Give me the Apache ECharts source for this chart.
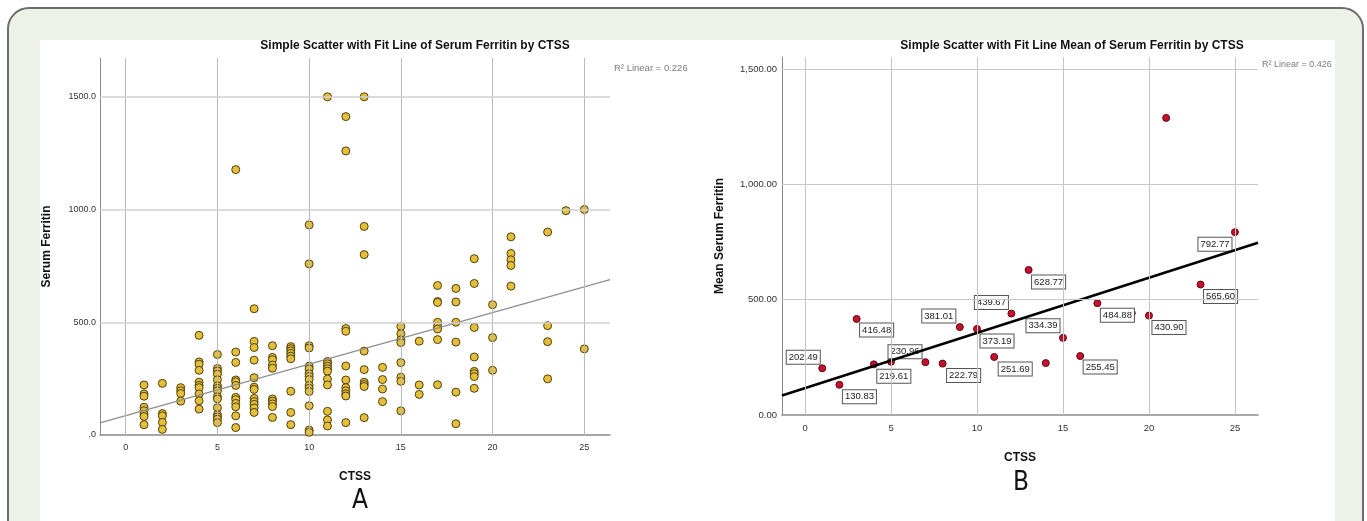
<!DOCTYPE html>
<html><head><meta charset="utf-8">
<script src="https://cdn.jsdelivr.net/npm/echarts@6/dist/echarts.min.js"></script>
<style>
html,body{margin:0;padding:0;width:1367px;height:521px;overflow:hidden;background:#fff;}
#frame{position:absolute;left:7px;top:7px;width:1357px;height:560px;border:2px solid #6d6d6d;border-radius:22px;background:#edf2e9;box-sizing:border-box;}
#panel{position:absolute;left:40px;top:40px;width:1295px;height:481px;background:#fff;}
#chart{position:absolute;left:0;top:0;width:1367px;height:521px;}
</style></head><body>
<div id="frame"></div><div id="panel"></div><div id="chart"></div>
<script>
// ---- Panel A: individual Serum Ferritin values by CTSS ----
const ctssLevelsA = [1,2,3,4,5,6,7,8,9,10,11,12,13,14,15,16,17,18,19,20,21,23,24,25];
const ferritinByLevelA = [
  [222,182,172,123,108,92,82,46],
  [229,95,85,56,25],
  [210,196,184,150],
  [442,324,314,287,234,220,210,182,152,115],
  [357,295,284,270,245,218,207,196,170,160,121,90,80,70,55],
  [1177,368,322,244,236,220,167,157,140,125,85,33],
  [560,415,388,332,254,212,202,162,148,136,120,100],
  [396,344,334,310,296,160,150,138,126,78],
  [392,383,373,362,350,338,194,100,46],
  [932,759,396,386,305,293,272,260,246,220,207,193,130,22,12],
  [1500,326,316,305,294,283,248,222,105,67,40],
  [1412,1260,472,460,306,244,210,196,183,173,55],
  [1500,925,800,372,290,234,224,215,77],
  [300,246,204,148],
  [482,449,422,410,321,256,238,107],
  [416,222,180],
  [663,592,588,500,482,470,423,223],
  [650,590,500,412,190,50],
  [782,672,477,346,282,272,259,207],
  [578,432,287],
  [879,805,777,752,660],
  [900,485,414,249],
  [995],
  [1000,382]
];
const fitCoefA = [86, 22.85];

// ---- Panel B: mean Serum Ferritin by CTSS ----
const ctssB = [1,2,3,4,5,7,8,9,10,11,12,13,14,15,16,17,19,20,21,23,25];
const meanFerritinB = [202.49,130.83,416.48,219.61,230.96,229,222.79,381.01,373.19,251.69,439.67,628.77,225,334.39,255.45,484.88,442,430.90,1288,565.60,792.77];
// ticks
const xTicks = [0,5,10,15,20,25];
const yTicksA = [0,500,1000,1500];
const yTicksB = [0,500,1000,1500];
const r2A = '0.226', r2B = '0.426';

// label placement (style only) for panel B, in pixels relative to the point
const labelOffsetB = [[-19,-11],[20,12],[20,11],[20,12],[14,-10],null,[21,12],[-21,-11],[20,12],[21,12],[-20,-11],[20,12],null,[-20,-12],[20,11],[20,12],null,[20,12],null,[20,12],[-20,12]];

const FONT = "'Liberation Sans', Arial, sans-serif";

function lsq(xs, ys){
  const n = xs.length; let mx=0,my=0;
  for(let i=0;i<n;i++){mx+=xs[i];my+=ys[i];}
  mx/=n;my/=n; let sxy=0,sxx=0;
  for(let i=0;i<n;i++){sxy+=(xs[i]-mx)*(ys[i]-my);sxx+=(xs[i]-mx)*(xs[i]-mx);}
  const b=sxy/sxx; return [my-b*mx,b];
}

const pointsA = [];
ctssLevelsA.forEach((x,i)=>ferritinByLevelA[i].forEach(v=>pointsA.push([x,v])));
const fitB = lsq(ctssB, meanFerritinB);

const xRangeA = [-1.4, 26.4], yMaxA = 1672;
const xRangeB = [-1.34, 26.34], yMaxB = 1552;

const lineA = xRangeA.map(x=>[x, fitCoefA[0]+fitCoefA[1]*x]);
const lineB = xRangeB.map(x=>[x, fitB[0]+fitB[1]*x]);

function fmtB(v){
  const s = v.toFixed(2); const [i,d] = s.split('.');
  return i.replace(/\B(?=(\d{3})+(?!\d))/g, ',') + '.' + d;
}

function gridLines(xi, yTicks, vColor, hColor, hWidth){
  return {
    type:'line', xAxisIndex:xi, yAxisIndex:xi, data:[], silent:true, z:1,
    markLine:{
      silent:true, symbol:'none', animation:false, label:{show:false},
      lineStyle:{type:'solid'},
      data:[
        ...xTicks.map(v=>({xAxis:v, lineStyle:{color:vColor,width:1,type:'solid'}})),
        ...yTicks.filter(v=>v>0).map(v=>({yAxis:v, lineStyle:{color:hColor,width:hWidth,type:'solid'}}))
      ]
    }
  };
}

const chart = echarts.init(document.getElementById('chart'), null, {renderer:'canvas'});
chart.setOption({
  animation:false,
  backgroundColor:'transparent',
  textStyle:{fontFamily:FONT},
  grid:[
    {left:100, top:58, width:510, height:377},
    {left:782, top:57, width:476, height:358}
  ],
  xAxis:[
    {type:'value', gridIndex:0, min:xRangeA[0], max:xRangeA[1],
     axisLine:{show:true, onZero:false, lineStyle:{color:'#8a8a8a', width:1.5}},
     axisTick:{show:false}, splitLine:{show:false},
     axisLabel:{customValues:xTicks, fontSize:9, color:'#333', margin:8, fontFamily:FONT},
     name:'CTSS', nameLocation:'middle', nameGap:36,
     nameTextStyle:{fontWeight:'bold', fontSize:12, color:'#111', fontFamily:FONT}},
    {type:'value', gridIndex:1, min:xRangeB[0], max:xRangeB[1],
     axisLine:{show:true, onZero:false, lineStyle:{color:'#8a8a8a', width:1.5}},
     axisTick:{show:false}, splitLine:{show:false},
     axisLabel:{customValues:xTicks, fontSize:9.5, color:'#333', margin:8, fontFamily:FONT},
     name:'CTSS', nameLocation:'middle', nameGap:37,
     nameTextStyle:{fontWeight:'bold', fontSize:12, color:'#111', fontFamily:FONT}}
  ],
  yAxis:[
    {type:'value', gridIndex:0, min:0, max:yMaxA,
     axisLine:{show:true, onZero:false, lineStyle:{color:'#8a8a8a', width:1}},
     axisTick:{show:false}, splitLine:{show:false},
     axisLabel:{customValues:yTicksA, fontSize:9, color:'#333', margin:4, fontFamily:FONT,
       formatter:v=> v===0 ? '.0' : v.toFixed(1)},
     name:'Serum Ferritin', nameLocation:'middle', nameGap:47, nameRotate:90,
     nameTextStyle:{fontWeight:'bold', fontSize:12, color:'#111', fontFamily:FONT}},
    {type:'value', gridIndex:1, min:0, max:yMaxB,
     axisLine:{show:true, onZero:false, lineStyle:{color:'#8a8a8a', width:1}},
     axisTick:{show:false}, splitLine:{show:false},
     axisLabel:{customValues:yTicksB, fontSize:9.5, color:'#333', margin:5, fontFamily:FONT,
       formatter:v=>fmtB(v)},
     name:'Mean Serum Ferritin', nameLocation:'middle', nameGap:56, nameRotate:90,
     nameTextStyle:{fontWeight:'bold', fontSize:12, color:'#111', fontFamily:FONT}}
  ],
  series:[
    gridLines(0, yTicksA, '#b8b8b8', '#d0d0d0', 1.5),
    gridLines(1, yTicksB, '#c4c4c4', '#c8c8c8', 1),
    {type:'scatter', xAxisIndex:0, yAxisIndex:0, z:3, data:pointsA, symbolSize:8,
     itemStyle:{color:'#e4c03a', borderColor:'#4f3f0c', borderWidth:1, opacity:1}},
    {type:'line', xAxisIndex:0, yAxisIndex:0, z:4, data:lineA, symbol:'none',
     lineStyle:{color:'#8f8f8f', width:1.2}},
    {type:'scatter', xAxisIndex:1, yAxisIndex:1, z:3, symbolSize:7,
     itemStyle:{color:'#c8102e', borderColor:'#5a0a14', borderWidth:1, opacity:1},
     label:{show:false, position:'inside', align:'center', verticalAlign:'middle',
       formatter:p=>p.value[1].toFixed(2), backgroundColor:'#fff', borderColor:'#555', borderWidth:1,
       padding:[2,2,1,2], fontSize:9.5, color:'#222', fontFamily:FONT},
     data:ctssB.map((x,i)=>({value:[x, meanFerritinB[i]],
       label: labelOffsetB[i] ? {show:true, offset:labelOffsetB[i]} : {show:false}}))},
    {type:'line', xAxisIndex:1, yAxisIndex:1, z:4, data:lineB, symbol:'none',
     lineStyle:{color:'#000', width:2.5}}
  ],
  graphic:[
    {type:'text', x:415, y:46, style:{text:'Simple Scatter with Fit Line of Serum Ferritin by CTSS', font:'bold 12px '+FONT, fill:'#111', textAlign:'center', textVerticalAlign:'middle'}},
    {type:'text', x:1072, y:46, style:{text:'Simple Scatter with Fit Line Mean of Serum Ferritin by CTSS', font:'bold 12px '+FONT, fill:'#111', textAlign:'center', textVerticalAlign:'middle'}},
    {type:'text', x:614, y:68, style:{text:'R\u00B2 Linear = '+r2A, font:'9.5px '+FONT, fill:'#7a7a7a', textAlign:'left', textVerticalAlign:'middle'}},
    {type:'text', x:1262, y:65, style:{text:'R\u00B2 Linear = '+r2B, font:'9px '+FONT, fill:'#7a7a7a', textAlign:'left', textVerticalAlign:'middle'}},
    {type:'text', x:360, y:501, style:{text:'A', font:"26px 'Liberation Sans Narrow', 'DejaVu Sans Condensed', sans-serif", fill:'#111', textAlign:'center', textVerticalAlign:'middle'}},
    {type:'text', x:1021, y:483, style:{text:'B', font:"26px 'Liberation Sans Narrow', 'DejaVu Sans Condensed', sans-serif", fill:'#111', textAlign:'center', textVerticalAlign:'middle'}}
  ]
});
</script>
</body></html>
